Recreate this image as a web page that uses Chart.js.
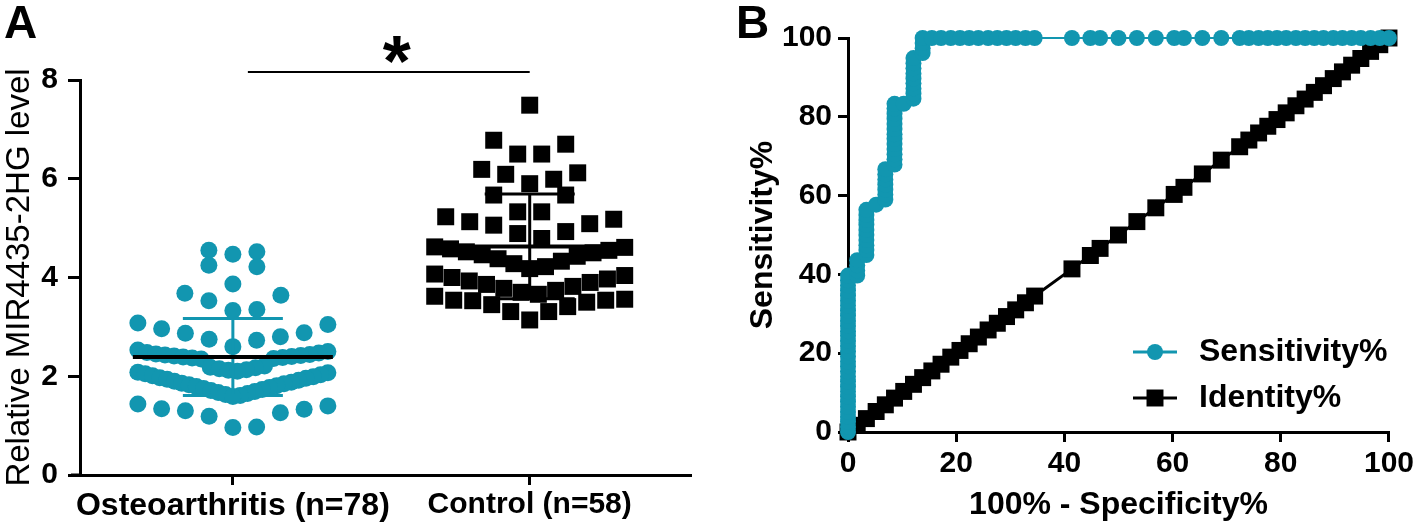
<!DOCTYPE html>
<html>
<head>
<meta charset="utf-8">
<script src="https://cdn.jsdelivr.net/npm/chart.js@4.4.1/dist/chart.umd.min.js"></script>
<style>
  body { margin: 0; background: #fff; }
  #wrapA { position: absolute; left: 0; top: 0; width: 720px; height: 531px; }
  #wrapB { position: absolute; left: 720px; top: 0; width: 698px; height: 531px; }
</style>
</head>
<body>
<div id="wrapA"><canvas id="chartA" width="720" height="531"></canvas></div>
<div id="wrapB"><canvas id="chartB" width="698" height="531"></canvas></div>
<script>
var teal = "#1296b0";
var fam = "'Liberation Sans', Arial, sans-serif";

// panel A
var groups = ["Osteoarthritis (n=78)", "Control (n=58)"];
var oaLevels = [
  4.55, 4.47, 4.52, 4.22, 4.25, 3.87, 3.68, 3.64, 3.53, 3.35, 3.33,
  3.08, 3.05, 2.96, 2.88, 2.87, 2.80, 2.75, 2.73, 2.60, 2.53,
  2.50, 2.48, 2.47, 2.45, 2.44, 2.43, 2.42, 2.41, 2.40, 2.39, 2.38, 2.37, 2.36, 2.35,
  2.21, 2.18, 2.17, 2.15, 2.13, 2.12, 2.10, 2.08, 2.07, 2.05, 2.03, 2.01,
  1.99, 1.97, 1.96, 1.94, 1.92, 1.90, 1.88, 1.86, 1.85, 1.83, 1.81, 1.79,
  1.77, 1.75, 1.73, 1.71, 1.69, 1.67, 1.65, 1.63, 1.61, 1.59,
  1.44, 1.33, 1.30, 1.19, 0.96, 0.97, 1.26, 1.34, 1.40
];
var ctrlLevels = [
  7.49, 6.70, 6.78, 6.50, 6.50, 6.12, 5.99, 5.90, 6.09, 6.19, 5.67,
  5.67, 5.33, 5.33, 5.23, 5.13, 5.06, 4.89, 4.79, 4.93, 5.09, 5.18,
  4.62, 4.61, 4.58, 4.55, 4.52, 4.50, 4.46, 4.43, 4.38, 4.33, 4.28, 4.22, 4.18,
  4.07, 4.04, 4.00, 3.97, 3.93, 3.90, 3.86, 3.82, 3.78, 3.74, 3.70, 3.66, 3.62,
  3.54, 3.53, 3.50, 3.31, 3.14, 3.31, 3.41, 3.45, 3.54, 3.56
];
var groupMean = [2.39, 4.63];
var groupSD = [0.78, 1.06];

// panel B (ROC)
var rocFpr = [
  0,0,0,0,0,0,0,0,0,0,0,0,0,0,0,0,0,0,0,0,0,0,0,0,0,0,0,0,0,0,0,0,
  1.7,1.7,1.7,1.7,
  3.4,3.4,3.4,3.4,3.4,3.4,3.4,3.4,3.4,3.4,
  5.2,
  6.9,6.9,6.9,6.9,6.9,6.9,6.9,
  8.6,8.6,8.6,8.6,8.6,8.6,8.6,8.6,8.6,8.6,8.6,8.6,8.6,
  10.3,
  12.1,12.1,12.1,12.1,12.1,12.1,12.1,12.1,12.1,
  13.8,13.8,13.8,13.8,
  15.5,17.2,19.0,20.7,22.4,24.1,25.9,27.6,29.3,31.0,32.8,34.5,
  41.4,44.8,46.6,50.0,53.4,56.9,60.3,62.1,65.5,69.0,72.4,74.1,75.9,
  77.6,79.3,81.0,82.8,84.5,86.2,87.9,89.7,91.4,93.1,94.8,96.6,98.3,100
];
var rocSens = [
  0,1.3,2.6,3.8,5.1,6.4,7.7,9.0,10.3,11.5,12.8,14.1,15.4,16.7,17.9,19.2,
  20.5,21.8,23.1,24.4,25.6,26.9,28.2,29.5,30.8,32.1,33.3,34.6,35.9,37.2,38.5,39.7,
  39.7,41.0,42.3,43.6,
  44.9,46.2,47.4,48.7,50.0,51.3,52.6,53.8,55.1,56.4,
  57.7,
  59.0,60.3,61.5,62.8,64.1,65.4,66.7,
  67.9,69.2,70.5,71.8,73.1,74.4,75.6,76.9,78.2,79.5,80.8,82.1,83.3,
  83.3,
  84.6,85.9,87.2,88.5,89.7,91.0,92.3,93.6,94.9,
  96.2,97.4,98.7,100,
  100,100,100,100,100,100,100,100,100,100,100,100,
  100,100,100,100,100,100,100,100,100,100,100,100,100,
  100,100,100,100,100,100,100,100,100,100,100,100,100,100
];
var identityPts = [
  0,1.7,3.4,5.2,6.9,8.6,10.3,12.1,13.8,15.5,17.2,19.0,20.7,22.4,24.1,25.9,27.6,29.3,31.0,32.8,34.5,
  41.4,44.8,46.6,50.0,53.4,56.9,60.3,62.1,65.5,69.0,72.4,74.1,75.9,
  77.6,79.3,81.0,82.8,84.5,86.2,87.9,89.7,91.4,93.1,94.8,96.6,98.3,100
];

// Prism-style column scatter: values grouped in rows, lowest in the middle
function columnLayout(values, rowSpan, gap, halfWidth) {
  var order = values.map(function(v, i) { return i; });
  order.sort(function(a, b) { return values[a] - values[b]; });
  var out = [], k = 0;
  while (k < order.length) {
    var start = values[order[k]], row = [];
    while (k < order.length && values[order[k]] - start < rowSpan) { row.push(order[k]); k++; }
    var n = row.length;
    var s = n > 1 ? Math.min(gap, 2 * halfWidth / (n - 1)) : 0;
    var slots = [];
    for (var j = 0; j < n; j++) slots.push((j - (n - 1) / 2) * s);
    slots.sort(function(a, b) { return (Math.abs(a) - Math.abs(b)) || (b - a); });
    row.forEach(function(idx, j) { out[idx] = slots[j]; });
  }
  return out;
}

var groupBars = {
  id: "groupBars",
  afterDatasetsDraw: function(chart) {
    var ctx = chart.ctx, xs = chart.scales.x, ys = chart.scales.y;
    ctx.save();
    groupMean.forEach(function(m, i) {
      var cx = xs.getPixelForValue(i + 1);
      var capW = i === 0 ? 50 : 45;
      ctx.strokeStyle = i === 0 ? teal : "#000";
      ctx.lineWidth = 3;
      var top = ys.getPixelForValue(m + groupSD[i]);
      var bot = ys.getPixelForValue(m - groupSD[i]);
      ctx.beginPath();
      ctx.moveTo(cx, top); ctx.lineTo(cx, bot);
      ctx.moveTo(cx - capW, top); ctx.lineTo(cx + capW, top);
      ctx.moveTo(cx - capW, bot); ctx.lineTo(cx + capW, bot);
      ctx.stroke();
      ctx.strokeStyle = "#000";
      ctx.lineWidth = 4;
      var my = ys.getPixelForValue(m);
      ctx.beginPath();
      ctx.moveTo(cx - 100, my); ctx.lineTo(cx + 100, my);
      ctx.stroke();
    });
    ctx.restore();
  }
};

var notesA = {
  id: "notesA",
  afterDraw: function(chart) {
    var ctx = chart.ctx, xs = chart.scales.x, area = chart.chartArea;
    ctx.save();
    // x axis runs a little past the y axis, as in Prism
    ctx.strokeStyle = "#000";
    ctx.lineWidth = 3;
    ctx.beginPath();
    ctx.moveTo(area.left - 9, area.bottom); ctx.lineTo(area.left, area.bottom);
    ctx.stroke();
    ctx.fillStyle = "#000";
    ctx.font = "bold 46px " + fam;
    ctx.textBaseline = "alphabetic";
    ctx.fillText("A", 4, 38);
    var x1 = xs.getPixelForValue(1) + 15, x2 = xs.getPixelForValue(2);
    ctx.lineWidth = 2;
    ctx.beginPath();
    ctx.moveTo(x1, 72); ctx.lineTo(x2, 72);
    ctx.stroke();
    ctx.font = "bold 72px " + fam;
    ctx.textAlign = "center";
    ctx.fillText("*", x2 - 133, 86);
    ctx.restore();
  }
};

var chartA = new Chart(document.getElementById("chartA"), {
  type: "scatter",
  data: {
    datasets: [
      {
        label: groups[0],
        data: oaLevels.map(function(v) { return { x: 1, y: v }; }),
        pointStyle: "circle", pointRadius: 8.5, pointBorderWidth: 0,
        backgroundColor: teal, borderColor: teal, clip: false
      },
      {
        label: groups[1],
        data: ctrlLevels.map(function(v) { return { x: 2, y: v }; }),
        pointStyle: "rect", pointRadius: 12, pointBorderWidth: 0,
        backgroundColor: "#000", borderColor: "#000", clip: false
      }
    ]
  },
  options: {
    responsive: false, animation: false, devicePixelRatio: 1,
    layout: { padding: { left: 0, top: 80, right: 30, bottom: 0 } },
    plugins: { legend: { display: false }, tooltip: { enabled: false } },
    scales: {
      x: {
        type: "linear", min: 0.485, max: 2.54,
        afterBuildTicks: function(s) { s.ticks = [{ value: 1 }, { value: 2 }]; },
        afterFit: function(s) { s.height = 56; },
        ticks: {
          autoSkip: false, maxRotation: 0, color: "#000", padding: 2,
          callback: function(v) { return groups[v - 1]; },
          font: function(c) { return { family: fam, size: c.index === 0 ? 32 : 30, weight: "bold" }; }
        },
        grid: { drawOnChartArea: false, tickLength: 10, color: "#000", lineWidth: 3 },
        border: { color: "#000", width: 3 }
      },
      y: {
        min: 0, max: 8,
        afterFit: function(s) { s.width = 80; },
        ticks: { stepSize: 2, color: "#000", padding: 10, font: { family: fam, size: 30, weight: "bold" } },
        grid: { drawOnChartArea: false, tickLength: 12, color: "#000", lineWidth: 3 },
        border: { color: "#000", width: 3 },
        title: {
          display: true, text: "Relative MIR4435-2HG level", color: "#000",
          font: { family: fam, size: 33 }, padding: { top: 0, bottom: 0 }
        }
      }
    }
  },
  plugins: [groupBars, notesA]
});

// lay the columns out once the scales exist
(function() {
  var xs = chartA.scales.x;
  var unit = xs.getPixelForValue(2) - xs.getPixelForValue(1);
  var offA = columnLayout(oaLevels, 0.5, 24, 95);
  var offB = columnLayout(ctrlLevels, 0.5, 24, 95);
  chartA.data.datasets[0].data = oaLevels.map(function(v, i) { return { x: 1 + offA[i] / unit, y: v }; });
  chartA.data.datasets[1].data = ctrlLevels.map(function(v, i) { return { x: 2 + offB[i] / unit, y: v }; });
  chartA.update("none");
})();

var legendB = {
  id: "legendB",
  afterDraw: function(chart) {
    var ctx = chart.ctx;
    var items = [
      { text: "Sensitivity%", color: teal, style: "circle", r: 8, y: 352 },
      { text: "Identity%", color: "#000", style: "rect", r: 12, y: 398 }
    ];
    ctx.save();
    items.forEach(function(it) {
      ctx.strokeStyle = it.color;
      ctx.lineWidth = 3;
      ctx.beginPath();
      ctx.moveTo(413, it.y); ctx.lineTo(457, it.y);
      ctx.stroke();
      ctx.fillStyle = it.color;
      Chart.helpers.drawPoint(ctx, { pointStyle: it.style, radius: it.r, borderWidth: 0 }, 435, it.y);
      ctx.fillStyle = "#000";
      ctx.font = "bold 32px " + fam;
      ctx.textBaseline = "middle";
      ctx.fillText(it.text, 479, it.y);
    });
    ctx.font = "bold 46px " + fam;
    ctx.textBaseline = "alphabetic";
    ctx.fillText("B", 16, 38);
    ctx.restore();
  }
};

var chartB = new Chart(document.getElementById("chartB"), {
  type: "scatter",
  data: {
    datasets: [
      {
        label: "Sensitivity%",
        data: rocFpr.map(function(x, i) { return { x: x, y: rocSens[i] }; }),
        showLine: true, borderColor: teal, borderWidth: 2,
        backgroundColor: teal, pointStyle: "circle", pointRadius: 8, pointBorderWidth: 0, clip: false
      },
      {
        label: "Identity%",
        data: identityPts.map(function(v) { return { x: v, y: v }; }),
        showLine: true, borderColor: "#000", borderWidth: 3,
        backgroundColor: "#000", pointStyle: "rect", pointRadius: 12, pointBorderWidth: 0, clip: false
      }
    ]
  },
  options: {
    responsive: false, animation: false, devicePixelRatio: 1,
    layout: { padding: { left: 0, top: 38, right: 28, bottom: 0 } },
    plugins: { legend: { display: false }, tooltip: { enabled: false } },
    scales: {
      x: {
        type: "linear", min: 0, max: 100,
        afterFit: function(s) { s.height = 99; },
        ticks: { stepSize: 20, color: "#000", padding: 4, maxRotation: 0, font: { family: fam, size: 30, weight: "bold" } },
        grid: { drawOnChartArea: false, tickLength: 10, color: "#000", lineWidth: 3 },
        border: { color: "#000", width: 3 },
        title: {
          display: true, text: "100% - Specificity%", color: "#000",
          font: { family: fam, size: 32, weight: "bold" }, padding: { top: 0, bottom: 7 }
        }
      },
      y: {
        min: 0, max: 100,
        afterFit: function(s) { s.width = 128; },
        ticks: { stepSize: 20, color: "#000", padding: 6, font: { family: fam, size: 30, weight: "bold" } },
        grid: { drawOnChartArea: false, tickLength: 10, color: "#000", lineWidth: 3 },
        border: { color: "#000", width: 3 },
        title: {
          display: true, text: "Sensitivity%", color: "#000",
          font: { family: fam, size: 32, weight: "bold" }, padding: { top: 24, bottom: 0 }
        }
      }
    }
  },
  plugins: [legendB]
});
</script>
</body>
</html>
